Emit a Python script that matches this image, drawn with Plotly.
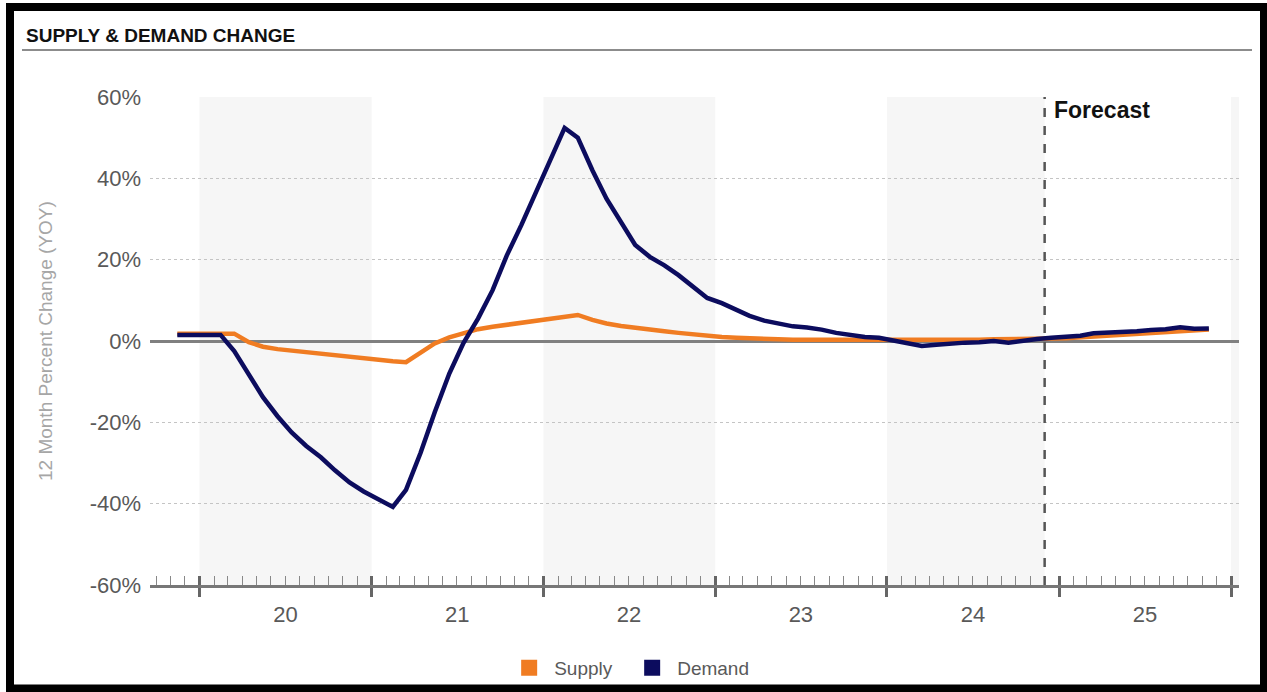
import pandas as pd
import plotly.graph_objects as go

# ---- data: 12-month % change, monthly Nov 2019 .. Nov 2025 (plotted mid-month) ----
months = pd.date_range("2019-11-01", periods=73, freq="MS") + pd.Timedelta(days=14)

supply = [
    1.8, 1.8, 1.8, 1.8, 1.8,
    -0.3, -1.4, -2.0, -2.4, -2.8, -3.2, -3.5, -3.9, -4.3,
    -4.7, -5.0, -5.2, -2.7, -0.6, 0.9, 2.0, 2.9, 3.5, 4.0, 4.5, 5.0,
    5.5, 6.0, 6.4, 5.2, 4.3, 3.7, 3.2, 2.8, 2.4, 2.0, 1.6, 1.3,
    1.0, 0.8, 0.6, 0.5, 0.4, 0.3, 0.3, 0.2, 0.2, 0.1, 0.1, 0.1,
    0.1, 0.1, 0.1, 0.2, 0.2, 0.3, 0.3, 0.4, 0.4, 0.4, 0.5, 0.6,
    0.7, 0.9, 1.1, 1.3, 1.5, 1.7, 1.9, 2.1, 2.4, 2.6, 2.8,
]
demand = [
    1.5, 1.5, 1.5, 1.5,
    -2.5, -8.0, -13.8, -18.5, -22.5, -25.8, -28.6, -31.8, -34.8, -37.0,
    -38.8, -40.8, -36.6, -27.5, -17.5, -8.0, -0.5, 5.5, 12.5, 21.0, 28.5, 36.5,
    44.5, 52.4, 50.0, 42.0, 35.0, 29.0, 23.6, 20.7, 18.6, 16.2, 13.4, 10.6,
    9.3, 7.8, 6.2, 5.0, 4.2, 3.6, 3.3, 2.8, 2.0, 1.4, 1.0, 0.8,
    0.1, -0.6, -1.2, -0.9, -0.6, -0.4, -0.3, 0.0, -0.4, 0.1, 0.5, 0.8,
    1.0, 1.3, 1.9, 2.0, 2.1, 2.4, 2.7, 2.9, 3.4, 3.0, 3.1,
]

year_starts = ["2020-01-01", "2021-01-01", "2022-01-01", "2023-01-01",
               "2024-01-01", "2025-01-01", "2026-01-01"]
year_mids = ["2020-07-02", "2021-07-02", "2022-07-02", "2023-07-02",
             "2024-07-02", "2025-07-02"]
year_labels = ["20", "21", "22", "23", "24", "25"]
y_ticks = [-60, -40, -20, 0, 20, 40, 60]
y_labels = ["-60%", "-40%", "-20%", "0%", "20%", "40%", "60%"]
forecast_start = "2024-12-01"
x_range = ["2019-09-18", "2026-01-18"]

SUPPLY_COLOR = "#f07c22"
DEMAND_COLOR = "#0c0c5e"
FONT = "Liberation Sans, Arial, sans-serif"

W, H = 1267, 692
ML, MR, MT, MB = 150, 28, 97, 107
PW, PH = W - ML - MR, H - MT - MB


def px(xp):
    return (xp - ML) / PW


def py(yp):
    return (H - MB - yp) / PH


fig = go.Figure()

fig.add_trace(go.Scatter(x=months, y=supply, mode="lines", name="Supply",
                         line=dict(color=SUPPLY_COLOR, width=4.5), showlegend=False))
fig.add_trace(go.Scatter(x=months, y=demand, mode="lines", name="Demand",
                         line=dict(color=DEMAND_COLOR, width=4.5), showlegend=False))

# legend entries drawn as squares
for name, col in (("Supply", SUPPLY_COLOR), ("Demand", DEMAND_COLOR)):
    fig.add_trace(go.Scatter(x=[None], y=[None], mode="markers", name=name,
                             marker=dict(symbol="square", size=16, color=col)))

shapes = []
# alternating year bands
for x0, x1 in (("2020-01-01", "2021-01-01"), ("2022-01-01", "2023-01-01"),
               ("2024-01-01", forecast_start), ("2026-01-01", x_range[1])):
    shapes.append(dict(type="rect", xref="x", yref="paper", x0=x0, x1=x1, y0=0, y1=1,
                       fillcolor="#f6f6f6", line=dict(width=0), layer="below"))
# forecast divider
shapes.append(dict(type="line", xref="x", yref="paper", x0=forecast_start, x1=forecast_start,
                   y0=0, y1=1, line=dict(color="#555555", width=2.5, dash="dash")))
# title rule
shapes.append(dict(type="line", xref="paper", yref="paper", x0=px(22), x1=px(1252),
                   y0=py(50), y1=py(50), line=dict(color="#666666", width=1.5)))
# frame
shapes.append(dict(type="rect", xref="paper", yref="paper", x0=px(10), x1=px(1264),
                   y0=py(7), y1=py(688.5), line=dict(color="#000000", width=8)))

annotations = [
    dict(text="<b>SUPPLY &amp; DEMAND CHANGE</b>", xref="paper", yref="paper",
         x=px(24), y=py(35), xanchor="left", yanchor="middle", showarrow=False,
         font=dict(family=FONT, size=19, color="#111111")),
    dict(text="12 Month Percent Change (YOY)", xref="paper", yref="paper",
         x=px(45), y=py(341), xanchor="center", yanchor="middle", textangle=-90,
         showarrow=False, font=dict(family=FONT, size=19, color="#a6a6a6")),
    dict(text="<b>Forecast</b>", xref="paper", yref="paper",
         x=px(1052), y=py(110), xanchor="left", yanchor="middle", showarrow=False,
         font=dict(family=FONT, size=23, color="#111111")),
]

fig.update_layout(
    width=W, height=H,
    margin=dict(l=ML, r=MR, t=MT, b=MB),
    paper_bgcolor="white", plot_bgcolor="white",
    font=dict(family=FONT, color="#595959"),
    shapes=shapes, annotations=annotations,
    legend=dict(orientation="h", xref="container", yref="container",
                x=0.495, xanchor="center", y=1 - 668 / H, yanchor="middle",
                font=dict(family=FONT, size=19, color="#595959"),
                itemwidth=40, entrywidth=68, entrywidthmode="pixels",
                bgcolor="rgba(0,0,0,0)"),
    xaxis=dict(type="date", range=x_range, tickmode="array", tickvals=year_starts,
               showticklabels=False, ticks="outside", ticklen=9, tickwidth=2.5,
               tickcolor="#666666", showgrid=False, zeroline=False,
               showline=True, linecolor="#777777", linewidth=2.5,
               minor=dict(tickmode="linear", tick0="2020-01-01", dtick="M1",
                          ticks="inside", ticklen=9, tickwidth=1.2,
                          tickcolor="#888888", showgrid=False)),
    xaxis2=dict(type="date", range=x_range, overlaying="x", matches="x", anchor="y",
                side="bottom", tickmode="array", tickvals=year_mids, ticktext=year_labels,
                ticks="outside", ticklen=10, tickcolor="rgba(0,0,0,0)",
                tickfont=dict(family=FONT, size=22, color="#595959"),
                showgrid=False, zeroline=False, showline=False),
    xaxis3=dict(type="date", range=x_range, overlaying="x", matches="x", anchor="y",
                side="bottom", tickmode="array", tickvals=year_starts,
                showticklabels=False, ticks="inside", ticklen=9, tickwidth=2.5,
                tickcolor="#666666", showgrid=False, zeroline=False, showline=False),
    yaxis=dict(range=[-60, 60], tickmode="array", tickvals=y_ticks, ticktext=y_labels,
               tickfont=dict(family=FONT, size=22, color="#595959"),
               ticks="", ticklabelstandoff=8,
               showgrid=True, gridcolor="#c4c4c4", gridwidth=1, griddash="dot",
               zeroline=True, zerolinecolor="#808080", zerolinewidth=3,
               showline=False),
)

# empty traces bound to the overlay axes so they render
fig.add_trace(go.Scatter(x=[None], y=[None], xaxis="x2", showlegend=False, hoverinfo="skip"))
fig.add_trace(go.Scatter(x=[None], y=[None], xaxis="x3", showlegend=False, hoverinfo="skip"))

fig.write_html("out.html")
